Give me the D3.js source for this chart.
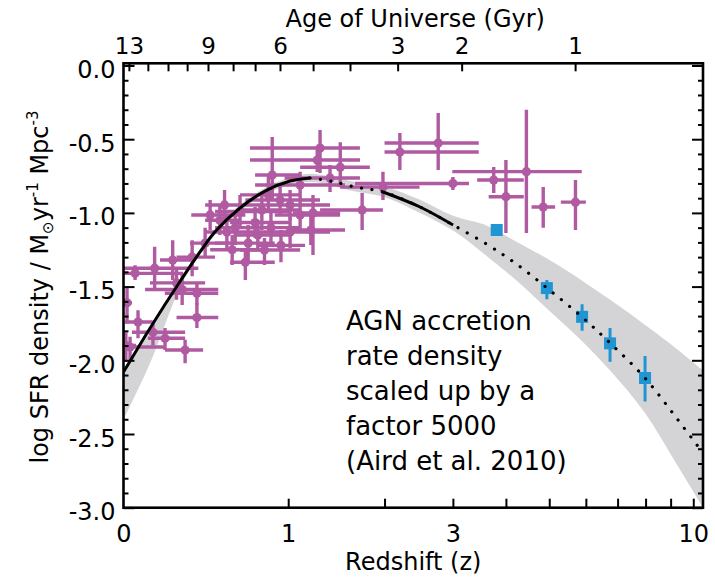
<!DOCTYPE html>
<html><head><meta charset="utf-8">
<script src="https://cdn.jsdelivr.net/npm/d3@7"></script>
<style>
body{margin:0;background:#fff}
svg{display:block}
text{font-family:"DejaVu Sans",sans-serif;fill:#000}
</style>
</head><body>
<svg id="chart" width="715" height="577"></svg>
<script>
// ---------------- DATA ----------------
// bottom axis (redshift z)
const zTicks = [1, 2, 3, 4, 5, 6, 7, 8, 9, 10];
const zTickLabels = [0, 1, 3, 10];
// top axis (age of Universe, Gyr) and the redshift of each age
const ageTicks = [13, 12, 11, 10, 9, 8, 7, 6, 5, 4, 3, 2, 1];
const ageTickZ = [0.023, 0.108, 0.206, 0.307, 0.427, 0.586, 0.740, 0.932, 1.221, 1.594, 2.17, 3.15, 5.69];
const ageLabeled = [13, 9, 6, 3, 2, 1];
// left axis
const yMajor = [0, -0.5, -1, -1.5, -2, -2.5, -3];
const yLabels = ["0.0", "-0.5", "-1.0", "-1.5", "-2.0", "-2.5", "-3.0"];

// model curve (SFR fit / scaled AGN accretion)
const modelZ = [0, 0.118, 0.279, 0.380, 0.470, 0.633, 0.814, 1.016, 1.193, 1.385, 1.65, 1.982, 2.484, 3.003, 3.638, 4.196, 4.946, 5.891, 6.753, 7.983, 9.32, 10.32];
const modelV = [-2.08, -1.782, -1.445, -1.265, -1.128, -0.967, -0.852, -0.784, -0.763, -0.783, -0.824, -0.858, -0.960, -1.082, -1.218, -1.340, -1.510, -1.707, -1.883, -2.121, -2.406, -2.603];

// uncertainty band
const bandZ = [0, 0.118, 0.279, 0.38, 0.47, 0.633, 0.814, 1.016, 1.193, 1.65, 1.982, 2.484, 3.003, 3.638, 4.196, 4.946, 5.891, 6.753, 7.983, 9.32, 10.46];
const bandUpper = [-2.06, -1.77, -1.425, -1.245, -1.11, -0.945, -0.83, -0.76, -0.735, -0.79, -0.82, -0.91, -1.02, -1.09, -1.19, -1.31, -1.46, -1.59, -1.76, -1.93, -2.07];
const bandLower = [-2.40, -2.02, -1.48, -1.285, -1.15, -0.99, -0.875, -0.81, -0.79, -0.855, -0.89, -1.0, -1.12, -1.30, -1.45, -1.65, -1.87, -2.07, -2.36, -2.72, -3.0];

// star-formation rate density compilation (purple)
const sfrZ   = [0.015, 0.01, 0.063, 0.132, 0.191, 0.028, 0.296, 0.362, 0.362, 0.28, 0.25, 0.14, 0.05, 0.23, 0.335, 0.41, 0.50, 0.545, 0.60, 0.69, 0.633, 0.79, 0.76, 0.86, 0.94, 0.67, 0.58, 1.016, 1.103, 1.2, 0.933, 0.84, 0.87, 1.287, 1.26, 1.49, 1.385, 1.103, 1.73, 1.98, 2.2, 2.76, 3.0, 3.75, 4.0, 4.45, 4.85, 5.7, 1.22, 0.44, 0.53, 0.74, 1.016, 0.81];
const sfrZlo = [0, 0, 0.006, 0.036, 0.108, 0.006, 0.191, 0.25, 0.19, 0.095, 0.118, 0, 0, 0.166, 0.25, 0.323, 0.41, 0.41, 0.47, 0.47, 0.47, 0.633, 0.60, 0.703, 0.76, 0.566, 0.44, 0.815, 0.89, 1.016, 0.67, 0.633, 0.74, 0.703, 0.703, 1.103, 0.97, 0.74, 1.287, 1.488, 2.0, 2.0, 1.65, 3.43, 3.65, 2.99, 4.57, 5.3, 1.04, 0.33, 0.41, 0.566, 0.81, 0.633];
const sfrZhi = [0.036, 0.054, 0.127, 0.296, 0.296, 0.191, 0.398, 0.49, 0.49, 0.49, 0.41, 0.37, 0.286, 0.323, 0.47, 0.566, 0.633, 0.815, 0.776, 0.89, 1.016, 1.103, 1.016, 1.103, 1.147, 0.89, 0.776, 1.385, 1.488, 1.54, 1.287, 1.103, 1.103, 1.705, 1.705, 1.82, 1.705, 1.54, 1.98, 2.476, 3.46, 3.46, 3.28, 4.39, 4.39, 5.88, 5.15, 6.0, 1.488, 0.67, 0.815, 1.016, 1.385, 1.103];
const sfrV   = [-1.61, -1.90, -1.74, -1.81, -1.85, -1.91, -1.93, -1.71, -1.545, -1.52, -1.475, -1.375, -1.41, -1.32, -1.30, -1.205, -1.05, -1.13, -1.10, -1.205, -0.99, -0.98, -1.15, -1.10, -1.22, -1.335, -1.25, -0.946, -1.014, -1.116, -0.912, -0.878, -0.743, -0.56, -0.641, -0.69, -0.763, -0.811, -0.98, -0.825, -0.587, -0.526, -0.80, -0.777, -0.89, -0.72, -0.96, -0.927, -1.0, -1.014, -0.946, -1.065, -1.13, -1.252];
const sfrVhi = [-1.50, -1.81, -1.66, -1.73, -1.78, -1.84, -1.86, -1.61, -1.47, -1.42, -1.375, -1.23, -1.355, -1.185, -1.185, -1.10, -0.946, -1.014, -0.98, -1.082, -0.878, -0.878, -1.048, -0.98, -1.116, -1.24, -1.15, -0.845, -0.912, -1.014, -0.811, -0.743, -0.485, -0.437, -0.573, -0.52, -0.675, -0.72, -0.865, -0.72, -0.458, -0.322, -0.756, -0.689, -0.641, -0.30, -0.824, -0.777, -0.878, -0.912, -0.845, -0.96, -1.03, -1.17];
const sfrVlo = [-1.75, -2.01, -1.85, -1.90, -1.93, -2.00, -2.02, -1.78, -1.625, -1.625, -1.59, -1.52, -1.455, -1.455, -1.43, -1.305, -1.15, -1.252, -1.218, -1.335, -1.10, -1.116, -1.252, -1.218, -1.335, -1.455, -1.354, -1.048, -1.13, -1.218, -1.014, -0.997, -0.912, -0.73, -0.723, -0.824, -0.858, -0.912, -1.116, -0.912, -0.709, -0.709, -0.845, -0.865, -1.136, -1.136, -1.10, -1.116, -1.286, -1.116, -1.048, -1.17, -1.24, -1.354];

// AGN accretion rate density x5000 (Aird et al. 2010, blue)
const agnZ   = [3.81, 4.94, 5.89, 6.75, 7.98];
const agnZlo = [3.72, 4.80, 5.75, 6.60, 7.80];
const agnZhi = [3.90, 5.08, 6.03, 6.90, 8.16];
const agnV   = [-1.116, -1.51, -1.705, -1.885, -2.12];
const agnVhi = [-1.095, -1.455, -1.62, -1.78, -1.97];
const agnVlo = [-1.14, -1.585, -1.80, -2.01, -2.28];

const annotation = ["AGN accretion", "rate density", "scaled up by a", "factor 5000", "(Aird et al. 2010)"];

// ---------------- DRAW ----------------
const L = 123.5, R = 703, T = 63.3, B = 507.7;
const svg = d3.select("#chart");
const xs = d3.scaleLog().domain([1, 11.46]).range([L, R]);   // applied to (1+z)
const X = z => xs(1 + z);
const ys = d3.scaleLinear().domain([-3, 0.015]).range([B, T]);

const purple = "#b05aa1", blue = "#1f95d4", band = "#d4d4d6";

svg.append("clipPath").attr("id", "clip")
  .append("rect").attr("x", L).attr("y", T).attr("width", R - L).attr("height", B - T);
const plot = svg.append("g").attr("clip-path", "url(#clip)");

// band
const bandData = bandZ.map((z, i) => ({z, u: bandUpper[i], l: bandLower[i]}));
plot.append("path").datum(bandData)
  .attr("d", d3.area().x(d => X(d.z)).y0(d => ys(d.l)).y1(d => ys(d.u)).curve(d3.curveMonotoneX))
  .attr("fill", band);

// purple SFR points
const sfr = sfrZ.map((z, i) => ({z, zl: sfrZlo[i], zh: sfrZhi[i], v: sfrV[i], vl: sfrVlo[i], vh: sfrVhi[i]}));
const gs = plot.append("g").attr("stroke", purple).attr("stroke-width", 3.4);
gs.selectAll("line.h").data(sfr).join("line")
  .attr("x1", d => X(d.zl)).attr("x2", d => X(d.zh)).attr("y1", d => ys(d.v)).attr("y2", d => ys(d.v));
gs.selectAll("line.v").data(sfr).join("line")
  .attr("x1", d => X(d.z)).attr("x2", d => X(d.z)).attr("y1", d => ys(d.vl)).attr("y2", d => ys(d.vh));
plot.append("g").selectAll("circle").data(sfr).join("circle")
  .attr("cx", d => X(d.z)).attr("cy", d => ys(d.v)).attr("r", 4.6).attr("fill", purple);

// blue AGN points
const agn = agnZ.map((z, i) => ({z, zl: agnZlo[i], zh: agnZhi[i], v: agnV[i], vl: agnVlo[i], vh: agnVhi[i]}));
const gb = plot.append("g").attr("stroke", blue).attr("stroke-width", 3);
gb.selectAll("line.h").data(agn).join("line")
  .attr("x1", d => X(d.zl)).attr("x2", d => X(d.zh)).attr("y1", d => ys(d.v)).attr("y2", d => ys(d.v));
gb.selectAll("line.v").data(agn).join("line")
  .attr("x1", d => X(d.z)).attr("x2", d => X(d.z)).attr("y1", d => ys(d.vl)).attr("y2", d => ys(d.vh));
plot.append("g").selectAll("rect").data(agn).join("rect")
  .attr("x", d => X(d.z) - 6).attr("y", d => ys(d.v) - 6).attr("width", 12).attr("height", 12).attr("fill", blue);

// model curve
const model = modelZ.map((z, i) => ({z, v: modelV[i]}));
const line = d3.line().x(d => X(d.z)).y(d => ys(d.v)).curve(d3.curveCatmullRom.alpha(0.5));
[[0, 1.193], [1.982, 3.003]].forEach(([a, b]) => {
  plot.append("path").datum(model.filter(d => d.z >= a && d.z <= b))
    .attr("d", line).attr("fill", "none").attr("stroke", "#000").attr("stroke-width", 3);
});
plot.append("path").datum(model.filter(d => d.z >= 1.193))
  .attr("d", line).attr("fill", "none").attr("stroke", "#000").attr("stroke-width", 3.2)
  .attr("stroke-linecap", "round").attr("stroke-dasharray", "0.01 10.5");

// axes
function styleAxis(g) {
  g.select(".domain").remove();
  g.selectAll(".tick line").attr("stroke", "#000").attr("stroke-width", 2);
  g.selectAll(".tick text").attr("font-family", "DejaVu Sans").attr("font-size", 24).attr("fill", "#000");
}
const yMinor = d3.range(0, 31).map(i => -i / 10).filter(v => !yMajor.some(m => Math.abs(m - v) < 1e-6));
svg.append("g").attr("transform", `translate(${L},0)`)
  .call(d3.axisLeft(ys).tickValues(yMajor).tickSize(-11).tickPadding(8).tickFormat((d, i) => yLabels[i]))
  .call(styleAxis)
  .call(g => g.selectAll(".tick text").attr("dy", "0.5em"));
svg.append("g").attr("transform", `translate(${L},0)`)
  .call(d3.axisLeft(ys).tickValues(yMinor).tickSize(-5).tickFormat(""))
  .call(styleAxis);
svg.append("g").attr("transform", `translate(${R},0)`)
  .call(d3.axisRight(ys).tickValues(yMajor).tickSize(-11).tickFormat(""))
  .call(styleAxis);
svg.append("g").attr("transform", `translate(${R},0)`)
  .call(d3.axisRight(ys).tickValues(yMinor).tickSize(-5).tickFormat(""))
  .call(styleAxis);
// bottom
svg.append("g").attr("transform", `translate(0,${B})`)
  .call(d3.axisBottom(xs).tickValues(zTicks.map(z => 1 + z)).tickSize(-9).tickFormat(""))
  .call(styleAxis);
svg.append("g").attr("transform", `translate(0,${B})`)
  .call(d3.axisBottom(xs).tickValues(zTickLabels.map(z => 1 + z)).tickSize(0).tickPadding(17)
        .tickFormat(d => String(Math.round(d - 1))))
  .call(styleAxis);
// top
svg.append("g").attr("transform", `translate(0,${T})`)
  .call(d3.axisTop(xs).tickValues(ageTickZ.map(z => 1 + z)).tickSize(-8).tickPadding(9)
        .tickFormat((d, i) => ageLabeled.includes(ageTicks[i]) ? String(ageTicks[i]) : ""))
  .call(styleAxis)
  .call(g => g.selectAll(".tick text").attr("font-size", 23));

// frame
svg.append("rect").attr("x", L).attr("y", T).attr("width", R - L).attr("height", B - T)
  .attr("fill", "none").attr("stroke", "#000").attr("stroke-width", 2.6);

// titles
svg.append("text").attr("x", (L + R) / 2 + 2).attr("y", 27).attr("text-anchor", "middle")
  .attr("font-size", 24).text("Age of Universe (Gyr)");
svg.append("text").attr("x", (L + R) / 2).attr("y", 570).attr("text-anchor", "middle")
  .attr("font-size", 24).text("Redshift (z)");
const yt = svg.append("text").attr("transform", "translate(48,287) rotate(-90)")
  .attr("text-anchor", "middle").attr("font-size", 24);
yt.append("tspan").text("log SFR density / M");
yt.append("tspan").attr("font-size", 15).attr("dy", 5).text("\u2299");
yt.append("tspan").attr("dy", -5).text("yr");
yt.append("tspan").attr("font-size", 15).attr("dy", -10).text("-1");
yt.append("tspan").attr("dy", 10).text(" Mpc");
yt.append("tspan").attr("font-size", 15).attr("dy", -10).text("-3");

// annotation
svg.append("g").selectAll("text").data(annotation).join("text")
  .attr("x", 346).attr("y", (d, i) => 330 + i * 35).attr("font-size", 26).text(d => d);
</script>
</body></html>
